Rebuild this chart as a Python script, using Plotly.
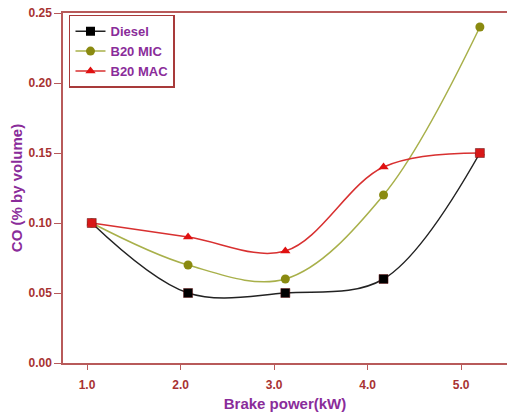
import plotly.graph_objects as go

brake_power = [1.05, 2.08, 3.12, 4.17, 5.2]
diesel = [0.10, 0.05, 0.05, 0.06, 0.15]
b20_mic = [0.10, 0.07, 0.06, 0.12, 0.24]
b20_mac = [0.10, 0.09, 0.08, 0.14, 0.15]

x_ticks = [1.0, 2.0, 3.0, 4.0, 5.0]
x_tick_labels = ["1.0", "2.0", "3.0", "4.0", "5.0"]
y_ticks = [0.00, 0.05, 0.10, 0.15, 0.20, 0.25]
y_tick_labels = ["0.00", "0.05", "0.10", "0.15", "0.20", "0.25"]

axis_col = "#b85a5a"
tick_col = "#a83232"
title_col = "#8a2c9a"

# overlapping points (where the red curve meets diesel) show as red squares
diesel_marker_cols = ["#d81818", "black", "black", "black", "#d81818"]

fig = go.Figure()
# legend-only entry for Diesel (black marker)
fig.add_trace(go.Scatter(x=[None], y=[None], name="Diesel", mode="lines+markers",
                         line=dict(color="#222222", width=1.5),
                         marker=dict(symbol="square", size=9, color="black")))
fig.add_trace(go.Scatter(x=brake_power, y=b20_mic, name="B20 MIC", mode="lines+markers",
                         line=dict(color="#a8b04a", width=1.5, shape="spline", smoothing=1),
                         marker=dict(symbol="circle", size=9, color="#8a8a10")))
fig.add_trace(go.Scatter(x=brake_power, y=b20_mac, name="B20 MAC", mode="lines+markers",
                         line=dict(color="#d83030", width=1.5, shape="spline", smoothing=1),
                         marker=dict(symbol="triangle-up", size=9, color="#e01010")))
fig.add_trace(go.Scatter(x=brake_power, y=diesel, name="Diesel", mode="lines+markers",
                         showlegend=False,
                         line=dict(color="#222222", width=1.5, shape="spline", smoothing=1),
                         marker=dict(symbol="square", size=9, color=diesel_marker_cols,
                                     line=dict(color="#601010", width=0.5))))

fig.update_layout(
    width=507, height=418,
    margin=dict(l=63, r=0, t=13, b=55),
    paper_bgcolor="white", plot_bgcolor="white",
    font=dict(family="Liberation Sans, Arial, sans-serif"),
    showlegend=True,
    legend=dict(x=0.0135, y=0.995, xanchor="left", yanchor="top",
                bordercolor="#a83a3a", borderwidth=1.5, bgcolor="white",
                font=dict(size=13, color=title_col, weight="bold"),
                tracegroupgap=0, itemwidth=30, traceorder="normal"),
)
fig.update_xaxes(range=[0.743, 5.49], tickvals=x_ticks, ticktext=x_tick_labels,
                 showgrid=False, zeroline=False, showline=True, linecolor=axis_col, linewidth=1.5,
                 mirror=True, ticks="outside", ticklen=5, tickcolor=axis_col, automargin=False,
                 ticklabelstandoff=5, ticklabeloverflow="allow",
                 tickfont=dict(size=12, color=tick_col, weight="bold"),
                 title=dict(text="Brake power(kW)", font=dict(size=15, color=title_col, weight="bold"), standoff=7))
fig.update_yaxes(range=[0, 0.25], tickvals=y_ticks, ticktext=y_tick_labels,
                 showgrid=False, zeroline=False, showline=True, linecolor=axis_col, linewidth=1.5,
                 mirror=True, ticks="outside", ticklen=7, tickcolor=axis_col, automargin=False,
                 ticklabeloverflow="allow",
                 tickfont=dict(size=12, color=tick_col, weight="bold"),
                 title=dict(text="CO (% by volume)", font=dict(size=15, color=title_col, weight="bold"), standoff=2))

fig.write_html("out.html", config={"displayModeBar": False},
               post_script="document.body.style.margin='0';")
